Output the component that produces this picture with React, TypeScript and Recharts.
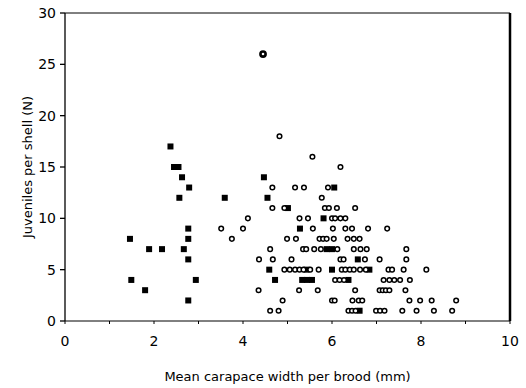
import React from 'react';
import { ScatterChart, Scatter, XAxis, YAxis, ZAxis, ReferenceLine } from 'recharts';

// Open circles: one brood per point (x = mean carapace width, y = juveniles)
const circleX = [
    4.45,
    4.82,
    5.56,
    6.19,
    4.66, 5.17, 5.37, 5.91,
    5.77,
    4.66, 4.93, 5.84, 5.93, 6.11, 6.52,
    4.11, 5.27, 5.46, 6.0, 6.07, 6.19, 6.30,
    3.51, 4.0, 5.57, 6.02, 6.30, 6.45, 6.81, 7.24,
    3.75, 4.99, 5.19, 5.72, 5.80, 5.88, 6.04, 6.35, 6.49, 6.62,
    4.61, 5.35, 5.42, 5.60, 5.75, 6.12, 6.49, 6.64, 6.78, 7.67,
    4.36, 4.67, 5.09, 6.19, 6.26, 6.74, 7.07, 7.67,
    4.93, 5.05, 5.17, 5.27, 5.36, 5.51, 5.70, 6.22, 6.30, 6.40, 6.49, 6.63, 6.76, 7.27, 7.35, 7.61, 8.12,
    6.07, 6.17, 6.27, 7.16, 7.29, 7.40, 7.53, 7.75,
    4.35, 5.26, 5.68, 6.52, 7.07, 7.14, 7.21, 7.29, 7.65,
    4.89, 6.0, 6.06, 6.46, 6.60, 6.68, 7.74, 7.98, 8.24, 8.79,
    4.61, 4.80, 6.37, 6.45, 6.53, 6.99, 7.08, 7.18, 7.58, 7.90, 8.29, 8.70,
];
const circleY = [
    26,
    18,
    16,
    15,
    13, 13, 13, 13,
    12,
    11, 11, 11, 11, 11, 11,
    10, 10, 10, 10, 10, 10, 10,
    9, 9, 9, 9, 9, 9, 9, 9,
    8, 8, 8, 8, 8, 8, 8, 8, 8, 8,
    7, 7, 7, 7, 7, 7, 7, 7, 7, 7,
    6, 6, 6, 6, 6, 6, 6, 6,
    5, 5, 5, 5, 5, 5, 5, 5, 5, 5, 5, 5, 5, 5, 5, 5, 5,
    4, 4, 4, 4, 4, 4, 4, 4,
    3, 3, 3, 3, 3, 3, 3, 3, 3,
    2, 2, 2, 2, 2, 2, 2, 2, 2, 2,
    1, 1, 1, 1, 1, 1, 1, 1, 1, 1, 1, 1,
];

// Filled squares
const squareX = [
    2.37,
    2.45, 2.55,
    2.63, 4.47,
    2.79, 6.05,
    2.57, 3.59, 4.55,
    5.01,
    5.81,
    2.77, 5.28,
    1.46, 2.77,
    1.89, 2.18, 2.67, 5.88, 6.0,
    2.77, 6.58,
    4.59, 5.43, 6.0, 6.84,
    1.49, 2.94, 4.72, 5.33, 5.44, 5.55, 6.37,
    1.80,
    2.77,
    6.62,
];
const squareY = [
    17,
    15, 15,
    14, 14,
    13, 13,
    12, 12, 12,
    11,
    10,
    9, 9,
    8, 8,
    7, 7, 7, 7, 7,
    6, 6,
    5, 5, 5, 5,
    4, 4, 4, 4, 4, 4, 4,
    3,
    2,
    1,
];

const xTicks = [0, 1, 2, 3, 4, 5, 6, 7, 8, 9, 10];
const yTicks = [0, 5, 10, 15, 20, 25, 30];

const circles = circleX.map((x, i) => ({ x, y: circleY[i] }));
const squares = squareX.map((x, i) => ({ x, y: squareY[i] }));

const font = 'DejaVu Sans, sans-serif';

const OpenCircle = (props: any) => {
    const { cx, cy, payload } = props;
    // the lone 26 point is printed heavier in the original
    const bold = payload && payload.y >= 26;
    return <circle cx={cx} cy={cy} r={bold ? 2.6 : 2.3} fill="#fff" stroke="#000" strokeWidth={bold ? 2.6 : 1.5} />;
};

const FilledSquare = (props: any) => {
    const { cx, cy } = props;
    return <rect x={cx - 3} y={cy - 3} width={6} height={6} fill="#000" />;
};

export default function App() {
    return (
        <div style={{ position: 'absolute', left: 0, top: 0, background: '#fff' }}>
            <ScatterChart width={526} height={388} margin={{ top: 13, right: 16, bottom: 0, left: 0 }}>
                <XAxis
                    type="number"
                    dataKey="x"
                    domain={[0, 10]}
                    ticks={xTicks}
                    tickFormatter={(v: number) => (v % 2 === 0 ? String(v) : '')}
                    height={67}
                    stroke="#000"
                    tickSize={3}
                    tickMargin={12}
                    tick={{ fill: '#000', fontSize: 14, fontFamily: font }}
                    label={{ value: 'Mean carapace width per brood (mm)', position: 'insideBottom', offset: 7, style: { fill: '#000', fontSize: 13, fontFamily: font } }}
                />
                <YAxis
                    type="number"
                    dataKey="y"
                    domain={[0, 30]}
                    ticks={yTicks}
                    width={65}
                    stroke="#000"
                    strokeWidth={1.3}
                    tickSize={5}
                    tickMargin={4}
                    tick={{ fill: '#000', fontSize: 14, fontFamily: font }}
                    label={{ value: 'Juveniles per shell (N)', angle: -90, position: 'insideLeft', offset: 27, style: { textAnchor: 'middle', fill: '#000', fontSize: 13, fontFamily: font } }}
                />
                <ZAxis range={[30, 30]} />
                <ReferenceLine y={30} stroke="#000" strokeWidth={1} ifOverflow="visible" />
                <ReferenceLine x={10} stroke="#000" strokeWidth={2.5} ifOverflow="visible" />
                <Scatter data={squares} shape={FilledSquare} isAnimationActive={false} />
                <Scatter data={circles} shape={OpenCircle} isAnimationActive={false} />
            </ScatterChart>
        </div>
    );
}
